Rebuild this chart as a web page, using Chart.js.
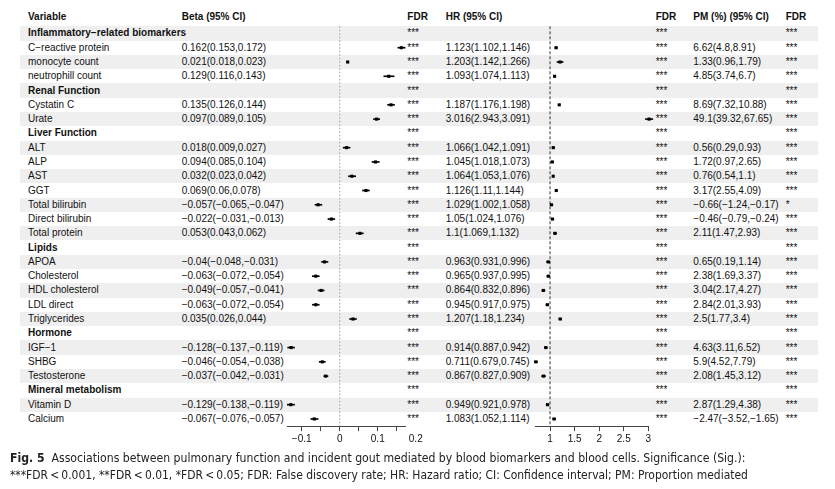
<!DOCTYPE html>
<html>
<head>
<meta charset="utf-8">
<script src="https://cdn.jsdelivr.net/npm/chart.js@4.4.0/dist/chart.umd.min.js"></script>
<style>
body { margin: 0; background: #fff; }
#wrap { position: relative; width: 835px; height: 489px; overflow: hidden;
        font-family: "Liberation Sans", Arial, sans-serif; font-size: 10px; color: #111; }
.stripe { position: absolute; left: 20px; width: 798px; background: #efefef; }
.cell { position: absolute; white-space: nowrap; line-height: 12px; height: 12px; margin-top: -6px; }
.bold { font-weight: bold; }
canvas { position: absolute; top: 0; }
.cap { position: absolute; left: 10px; font-family: "Liberation Sans Narrow", "DejaVu Sans Condensed", "Liberation Sans", Arial, sans-serif;
       font-stretch: condensed; font-size: 12.5px; line-height: 17px; color: #222; white-space: nowrap; transform-origin: 0 0; }
#cap1 { top: 449px; transform: scaleX(0.971); }
#cap2 { top: 466px; transform: scaleX(0.956); }
</style>
</head>
<body>
<div id="wrap">
  <div id="rows"></div>
  <canvas id="betaChart" width="170" height="452" style="left:262px;width:170px;height:452px"></canvas>
  <canvas id="hrChart" width="170" height="452" style="left:512px;width:170px;height:452px"></canvas>
  <div class="cap" id="cap1"><b>Fig. 5</b>&nbsp; Associations between pulmonary function and incident gout mediated by blood biomarkers and blood cells. Significance (Sig.):</div>
  <div class="cap" id="cap2">***FDR&thinsp;&lt;&thinsp;0.001, **FDR&thinsp;&lt;&thinsp;0.01, *FDR&thinsp;&lt;&thinsp;0.05; FDR: False discovery rate; HR: Hazard ratio; CI: Confidence interval; PM: Proportion mediated</div>
</div>
<script>
// Rows of the table (group headings have no estimates)
const variables = ['Inflammatory−related biomarkers', 'C−reactive protein', 'monocyte count', 'neutrophill count',
    'Renal Function', 'Cystatin C', 'Urate',
    'Liver Function', 'ALT', 'ALP', 'AST', 'GGT', 'Total bilirubin', 'Direct bilirubin', 'Total protein',
    'Lipids', 'APOA', 'Cholesterol', 'HDL cholesterol', 'LDL direct', 'Triglycerides',
    'Hormone', 'IGF−1', 'SHBG', 'Testosterone',
    'Mineral metabolism', 'Vitamin D', 'Calcium'];

const beta     = [null, 0.162, 0.021, 0.129, null, 0.135, 0.097, null, 0.018, 0.094, 0.032, 0.069, -0.057, -0.022, 0.053, null, -0.04, -0.063, -0.049, -0.063, 0.035, null, -0.128, -0.046, -0.037, null, -0.129, -0.067];
const betaLow  = [null, 0.153, 0.018, 0.116, null, 0.126, 0.089, null, 0.009, 0.085, 0.023, 0.06, -0.065, -0.031, 0.043, null, -0.048, -0.072, -0.057, -0.072, 0.026, null, -0.137, -0.054, -0.042, null, -0.138, -0.076];
const betaHigh = [null, 0.172, 0.023, 0.143, null, 0.144, 0.105, null, 0.027, 0.104, 0.042, 0.078, -0.047, -0.013, 0.062, null, -0.031, -0.054, -0.041, -0.054, 0.044, null, -0.119, -0.038, -0.031, null, -0.119, -0.057];

const hr     = [null, 1.123, 1.203, 1.093, null, 1.187, 3.016, null, 1.066, 1.045, 1.064, 1.126, 1.029, 1.05, 1.1, null, 0.963, 0.965, 0.864, 0.945, 1.207, null, 0.914, 0.711, 0.867, null, 0.949, 1.083];
const hrLow  = [null, 1.102, 1.142, 1.074, null, 1.176, 2.943, null, 1.042, 1.018, 1.053, 1.11, 1.002, 1.024, 1.069, null, 0.931, 0.937, 0.832, 0.917, 1.18, null, 0.887, 0.679, 0.827, null, 0.921, 1.052];
const hrHigh = [null, 1.146, 1.266, 1.113, null, 1.198, 3.091, null, 1.091, 1.073, 1.076, 1.144, 1.058, 1.076, 1.132, null, 0.996, 0.995, 0.896, 0.975, 1.234, null, 0.942, 0.745, 0.909, null, 0.978, 1.114];

const pm     = [null, 6.62, 1.33, 4.85, null, 8.69, 49.1, null, 0.56, 1.72, 0.76, 3.17, -0.66, -0.46, 2.11, null, 0.65, 2.38, 3.04, 2.84, 2.5, null, 4.63, 5.9, 2.08, null, 2.87, -2.47];
const pmLow  = [null, 4.8, 0.96, 3.74, null, 7.32, 39.32, null, 0.29, 0.97, 0.54, 2.55, -1.24, -0.79, 1.47, null, 0.19, 1.69, 2.17, 2.01, 1.77, null, 3.11, 4.52, 1.45, null, 1.29, -3.52];
const pmHigh = [null, 8.91, 1.79, 6.7, null, 10.88, 67.65, null, 0.93, 2.65, 1.1, 4.09, -0.17, -0.24, 2.93, null, 1.14, 3.37, 4.27, 3.93, 3.4, null, 6.52, 7.79, 3.12, null, 4.38, -1.65];

const fdrBeta = variables.map(() => '***');
const fdrHr   = variables.map(() => '***');
const fdrPm   = ['***', '***', '***', '***', '***', '***', '***', '***', '***', '***', '***', '***', '*', '***', '***',
                 '***', '***', '***', '***', '***', '***', '***', '***', '***', '***', '***', '***', '***'];

// Axis ranges and ticks
const betaMin = -0.138, betaMax = 0.172;
const betaTicks = [-0.1, -0.05, 0, 0.05, 0.1, 0.15, 0.2];
const betaTickLabels = ['−0.1', '', '0', '', '0.1', '', '0.2'];
const hrMin = 0.71, hrMax = 3.0;
const hrTicks = [1, 1.5, 2, 2.5, 3];
const hrTickLabels = ['1', '1.5', '2', '2.5', '3'];

const headers = ['Variable', 'Beta (95% CI)', 'FDR', 'HR (95% CI)', 'FDR', 'PM (%) (95% CI)', 'FDR'];

const FONT = '"Liberation Sans", Arial, sans-serif';

function fmt(v) {
    return String(v).replace('-', '−');
}
function ciText(est, lo, hi, i) {
    if (est[i] === null) return '';
    return fmt(est[i]) + '(' + fmt(lo[i]) + ',' + fmt(hi[i]) + ')';
}

// dashed reference line (0 for beta, 1 for HR)
const refLine = {
    id: 'refLine',
    beforeDatasetsDraw(chart, args, opts) {
        const x = chart.scales.x.getPixelForValue(opts.value);
        const area = chart.chartArea;
        const ctx = chart.ctx;
        ctx.save();
        ctx.strokeStyle = opts.color;
        ctx.lineWidth = 1;
        ctx.setLineDash(opts.dash);
        ctx.beginPath();
        ctx.moveTo(x, area.top);
        ctx.lineTo(x, area.bottom);
        ctx.stroke();
        ctx.restore();
    }
};

function forestChart(id, est, lo, hi, min, max, ticks, tickLabels, pad, ref) {
    const ctx = document.getElementById(id).getContext('2d');
    return new Chart(ctx, {
        type: 'bar',
        data: {
            labels: variables,
            datasets: [{
                type: 'bar',
                indexAxis: 'y',
                data: lo.map((l, i) => l === null ? null : [l, hi[i]]),
                backgroundColor: '#000',
                borderWidth: 0,
                barThickness: 1,
                clip: false
            }, {
                type: 'line',
                indexAxis: 'y',
                data: est,
                showLine: false,
                pointStyle: 'rect',
                pointRadius: 2.2,
                pointBackgroundColor: '#000',
                pointBorderWidth: 0,
                clip: false
            }]
        },
        options: {
            indexAxis: 'y',
            responsive: false,
            animation: false,
            events: [],
            devicePixelRatio: 1,
            layout: { padding: pad },
            plugins: {
                legend: { display: false },
                tooltip: { enabled: false },
                refLine: ref
            },
            scales: {
                y: {
                    type: 'category',
                    offset: true,
                    display: false
                },
                x: {
                    type: 'linear',
                    min: min,
                    max: max,
                    bounds: 'data',
                    afterBuildTicks: scale => {
                        scale.ticks = ticks.map(v => ({ value: v }));
                    },
                    afterFit: scale => {
                        scale.height = 22;
                    },
                    border: { display: true, color: '#444', width: 1 },
                    grid: {
                        drawOnChartArea: false,
                        drawTicks: true,
                        tickLength: 5,
                        tickColor: c => (ticks[c.index] > max ? 'rgba(0,0,0,0)' : '#444')
                    },
                    ticks: {
                        autoSkip: false,
                        maxRotation: 0,
                        padding: 2,
                        color: '#111',
                        font: { family: FONT, size: 10 },
                        callback: (value, index) => tickLabels[index]
                    }
                }
            }
        },
        plugins: [refLine]
    });
}

const betaChart = forestChart('betaChart', beta, betaLow, betaHigh, betaMin, betaMax, betaTicks, betaTickLabels,
    { left: 25.3, right: 26.9, top: 26.3, bottom: 3.9 },
    { value: 0, color: '#9a9a9a', dash: [1.5, 2] });

const hrChart = forestChart('hrChart', hr, hrLow, hrHigh, hrMin, hrMax, hrTicks, hrTickLabels,
    { left: 23.8, right: 33.7, top: 26.3, bottom: 3.9 },
    { value: 1, color: '#333', dash: [3, 2] });

// Table text and stripes, placed on the rows of the forest plot scale
const colX = [28, 181.7, 407.3, 445.7, 655.7, 693.3, 785.7];
const yScale = betaChart.scales.y;
const step = yScale.getPixelForValue(1) - yScale.getPixelForValue(0);
const rowsEl = document.getElementById('rows');

function addCell(text, x, y, bold) {
    const d = document.createElement('div');
    d.className = 'cell' + (bold ? ' bold' : '');
    d.style.left = x + 'px';
    d.style.top = y + 'px';
    d.textContent = text;
    rowsEl.appendChild(d);
}

variables.forEach((name, i) => {
    const y = yScale.getPixelForValue(i);
    if (i % 2 === 0) {
        const s = document.createElement('div');
        s.className = 'stripe';
        s.style.top = (y - step / 2) + 'px';
        s.style.height = step + 'px';
        rowsEl.appendChild(s);
    }
});

const headerY = yScale.getPixelForValue(0) - 1.15 * step;
headers.forEach((h, c) => addCell(h, colX[c], headerY, true));

variables.forEach((name, i) => {
    const y = yScale.getPixelForValue(i);
    const group = beta[i] === null;
    addCell(name, colX[0], y, group);
    addCell(ciText(beta, betaLow, betaHigh, i), colX[1], y, false);
    addCell(fdrBeta[i], colX[2], y, false);
    addCell(ciText(hr, hrLow, hrHigh, i), colX[3], y, false);
    addCell(fdrHr[i], colX[4], y, false);
    addCell(ciText(pm, pmLow, pmHigh, i), colX[5], y, false);
    addCell(fdrPm[i], colX[6], y, false);
});
</script>
</body>
</html>
